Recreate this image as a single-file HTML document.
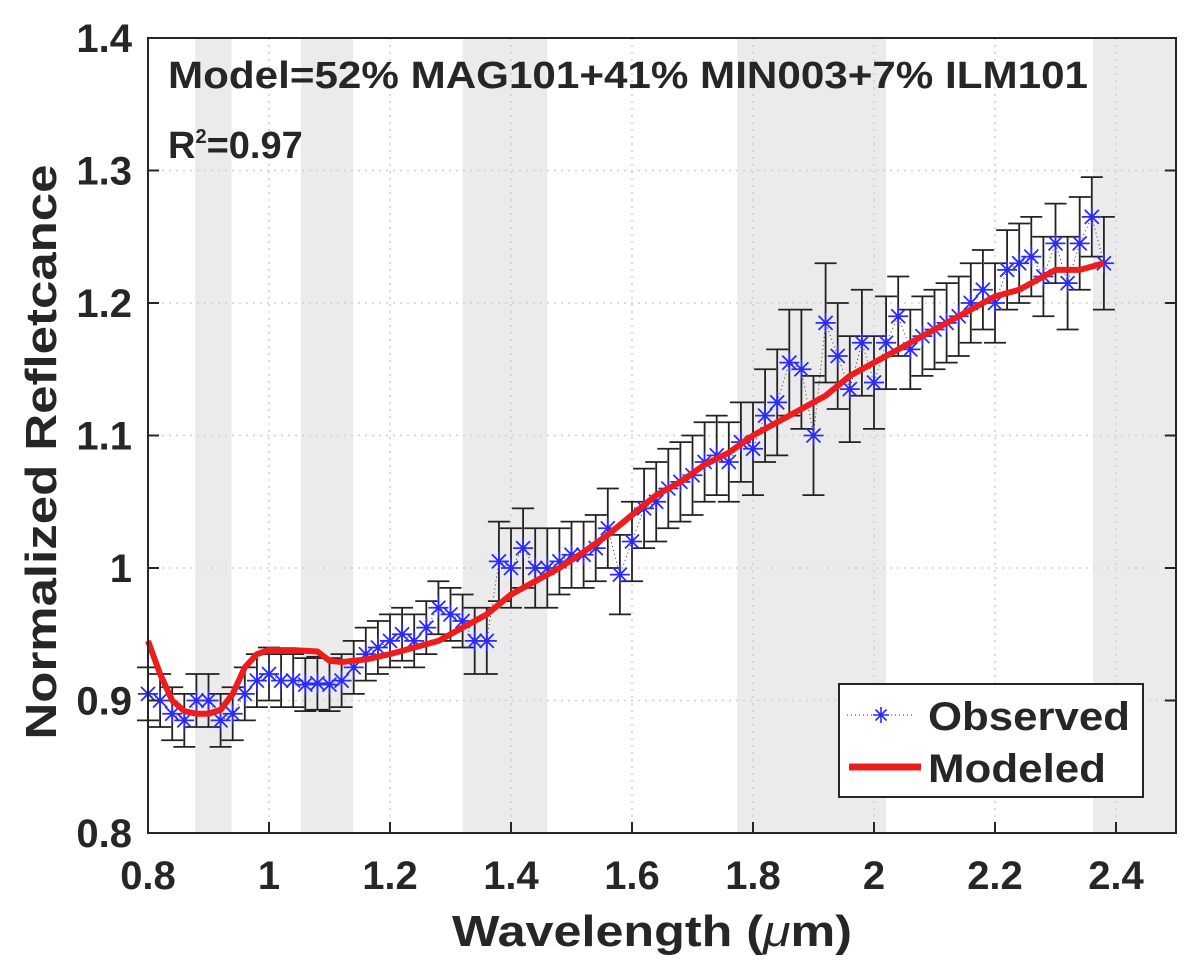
<!DOCTYPE html>
<html><head><meta charset="utf-8"><style>
body{margin:0;background:#fff;}
svg text{font-family:"Liberation Sans",Arial,sans-serif;font-weight:bold;fill:#262626;}
</style></head><body>
<svg id="chart" width="1200" height="957" xmlns="http://www.w3.org/2000/svg">
<g id="bands"></g><g id="grid"></g><g id="errs"></g><g id="obs"></g><g id="model"></g>
<rect x="148" y="38" width="1028" height="795" fill="none" stroke="#262626" stroke-width="2"/>
<g id="ticks"></g>
<text x="168" y="88" font-size="38" textLength="920" lengthAdjust="spacingAndGlyphs">Model=52% MAG101+41% MIN003+7% ILM101</text>
<text x="168" y="158" font-size="38">R<tspan font-size="20" dy="-15">2</tspan><tspan dy="15">=0.97</tspan></text>
<text x="652" y="946" font-size="44" text-anchor="middle" textLength="400" lengthAdjust="spacingAndGlyphs">Wavelength (<tspan font-style="italic" font-weight="normal">μ</tspan>m)</text>
<text transform="translate(56,452) rotate(-90)" font-size="44" text-anchor="middle" textLength="575" lengthAdjust="spacingAndGlyphs">Normalized Refletcance</text>
<g>
<rect x="839" y="684" width="304" height="113" fill="#fff" stroke="#262626" stroke-width="2"/>
<line x1="847" y1="715" x2="915" y2="715" stroke="#333" stroke-width="1" stroke-dasharray="1,3"/>
<path d="M873,715h16M881,707v16M875.5,709.5l11,11M875.5,720.5l11,-11" stroke="#2a2aff" stroke-width="1.6"/>
<text x="928" y="730" font-size="40" textLength="202" lengthAdjust="spacingAndGlyphs">Observed</text>
<line x1="849" y1="767" x2="921" y2="767" stroke="#ee1c1c" stroke-width="7"/>
<text x="928" y="782" font-size="40" textLength="178" lengthAdjust="spacingAndGlyphs">Modeled</text>
</g>
</svg>
<script>
const bandStarts=[0.878,1.053,1.32,1.774,2.362];
const bandEnds=[0.938,1.139,1.46,2.02,2.5];
const xTicks=[0.8,1,1.2,1.4,1.6,1.8,2,2.2,2.4];
const xTickLabels=["0.8","1","1.2","1.4","1.6","1.8","2","2.2","2.4"];
const yTicks=[0.8,0.9,1,1.1,1.2,1.3,1.4];
const yTickLabels=["0.8","0.9","1","1.1","1.2","1.3","1.4"];
const obsX=[0.80,0.82,0.84,0.86,0.88,0.90,0.92,0.94,0.96,0.98,1.00,1.02,1.04,1.06,1.08,1.10,1.12,1.14,1.16,1.18,1.20,1.22,1.24,1.26,1.28,1.30,1.32,1.34,1.36,1.38,1.40,1.42,1.44,1.46,1.48,1.50,1.52,1.54,1.56,1.58,1.60,1.62,1.64,1.66,1.68,1.70,1.72,1.74,1.76,1.78,1.80,1.82,1.84,1.86,1.88,1.90,1.92,1.94,1.96,1.98,2.00,2.02,2.04,2.06,2.08,2.10,2.12,2.14,2.16,2.18,2.20,2.22,2.24,2.26,2.28,2.30,2.32,2.34,2.36,2.38];
const obsY=[0.905,0.90,0.89,0.885,0.90,0.90,0.885,0.89,0.905,0.915,0.92,0.915,0.915,0.912,0.913,0.912,0.915,0.925,0.935,0.94,0.945,0.95,0.945,0.955,0.97,0.965,0.96,0.945,0.945,1.005,1.0,1.015,1.0,1.0,1.005,1.01,1.01,1.015,1.03,0.995,1.02,1.045,1.05,1.06,1.065,1.07,1.08,1.085,1.08,1.095,1.09,1.115,1.125,1.155,1.15,1.10,1.185,1.16,1.135,1.17,1.14,1.17,1.19,1.165,1.175,1.18,1.185,1.19,1.20,1.21,1.20,1.225,1.23,1.235,1.22,1.245,1.215,1.245,1.265,1.23];
const obsErr=[0.02,0.02,0.02,0.02,0.02,0.02,0.02,0.02,0.02,0.02,0.02,0.02,0.02,0.02,0.02,0.02,0.02,0.02,0.02,0.02,0.02,0.02,0.02,0.02,0.02,0.02,0.02,0.025,0.025,0.03,0.03,0.03,0.03,0.03,0.025,0.025,0.025,0.025,0.03,0.03,0.03,0.03,0.03,0.03,0.03,0.03,0.03,0.03,0.03,0.03,0.035,0.035,0.04,0.04,0.045,0.045,0.045,0.04,0.04,0.04,0.035,0.035,0.03,0.03,0.03,0.03,0.03,0.03,0.03,0.03,0.03,0.03,0.03,0.03,0.03,0.03,0.035,0.035,0.03,0.035];
const modX=[0.80,0.82,0.84,0.86,0.88,0.90,0.92,0.94,0.96,0.98,1.00,1.04,1.08,1.10,1.12,1.16,1.20,1.24,1.28,1.32,1.36,1.40,1.44,1.48,1.52,1.56,1.60,1.64,1.68,1.72,1.76,1.80,1.84,1.88,1.92,1.96,2.00,2.04,2.08,2.12,2.16,2.20,2.24,2.28,2.30,2.34,2.38];
const modY=[0.945,0.92,0.90,0.892,0.89,0.89,0.893,0.905,0.925,0.935,0.938,0.938,0.937,0.93,0.929,0.931,0.935,0.94,0.945,0.955,0.965,0.98,0.99,1.0,1.012,1.025,1.04,1.055,1.065,1.078,1.087,1.10,1.11,1.12,1.13,1.145,1.155,1.165,1.175,1.185,1.195,1.205,1.21,1.22,1.225,1.225,1.23];
const X=v=>148+(v-0.8)*605;
const Y=v=>833-(v-0.8)*(795/0.6);
const NS="http://www.w3.org/2000/svg";
function mk(parent,tag,attrs){const e=document.createElementNS(NS,tag);for(const k in attrs)e.setAttribute(k,attrs[k]);document.getElementById(parent).appendChild(e);return e;}
bandStarts.forEach((s,i)=>{
 const r=mk('bands','rect',{x:X(s),y:38,width:X(bandEnds[i])-X(s),height:795,fill:'#ebebeb'});
 
 
});
xTicks.forEach((t,i)=>{
 const g=mk('grid','line',{x1:X(t),x2:X(t),y1:38,y2:833,stroke:'#d0d0d0','stroke-width':1.5,'stroke-dasharray':'2,5'});
 
 
 const tk=mk('ticks','line',{x1:X(t),x2:X(t),y1:833,y2:822,stroke:'#262626','stroke-width':2});
 
 
 const l=mk('ticks','text',{x:X(t),y:889,'font-size':40,'text-anchor':'middle'});l.textContent=xTickLabels[i];
 
 
});
yTicks.forEach((t,i)=>{
 const g=mk('grid','line',{x1:148,x2:1176,y1:Y(t),y2:Y(t),stroke:'#d0d0d0','stroke-width':1.5,'stroke-dasharray':'2,5'});
 
 
 const tk=mk('ticks','line',{x1:148,x2:159,y1:Y(t),y2:Y(t),stroke:'#262626','stroke-width':2});
 
 
 const tk2=mk('ticks','line',{x1:1165,x2:1176,y1:Y(t),y2:Y(t),stroke:'#262626','stroke-width':2});
 
 
 const l=mk('ticks','text',{x:132,y:Y(t)+14,'font-size':40,'text-anchor':'end'});l.textContent=yTickLabels[i];
 
 
});
let p='';
obsX.forEach((x,i)=>{
 const cx=X(x),y1=Y(obsY[i]-obsErr[i]),y2=Y(obsY[i]+obsErr[i]);
 p+=`M${cx},${y1}V${y2}M${cx-11},${y1}h22M${cx-11},${y2}h22`;
});
const ep=mk('errs','path',{d:p,stroke:'#222','stroke-width':1.8,fill:'none'});


const ol=mk('obs','polyline',{points:obsX.map((x,i)=>X(x)+','+Y(obsY[i])).join(' '),fill:'none',stroke:'#333','stroke-width':1,'stroke-dasharray':'1,3'});


obsX.forEach((x,i)=>{
 const cx=X(x),cy=Y(obsY[i]),r=10;
 const m=mk('obs','path',{d:`M${cx-r},${cy}h${2*r}M${cx},${cy-r}v${2*r}M${cx-r*0.7},${cy-r*0.7}l${r*1.4},${r*1.4}M${cx-r*0.7},${cy+r*0.7}l${r*1.4},${-r*1.4}`,stroke:'#2a2aff','stroke-width':1.8});
 
 
});
const ml=mk('model','polyline',{points:modX.map((x,i)=>X(x)+','+Y(modY[i])).join(' '),fill:'none',stroke:'#ee1c1c','stroke-width':6,'stroke-linejoin':'round'});


</script>
</body></html>
